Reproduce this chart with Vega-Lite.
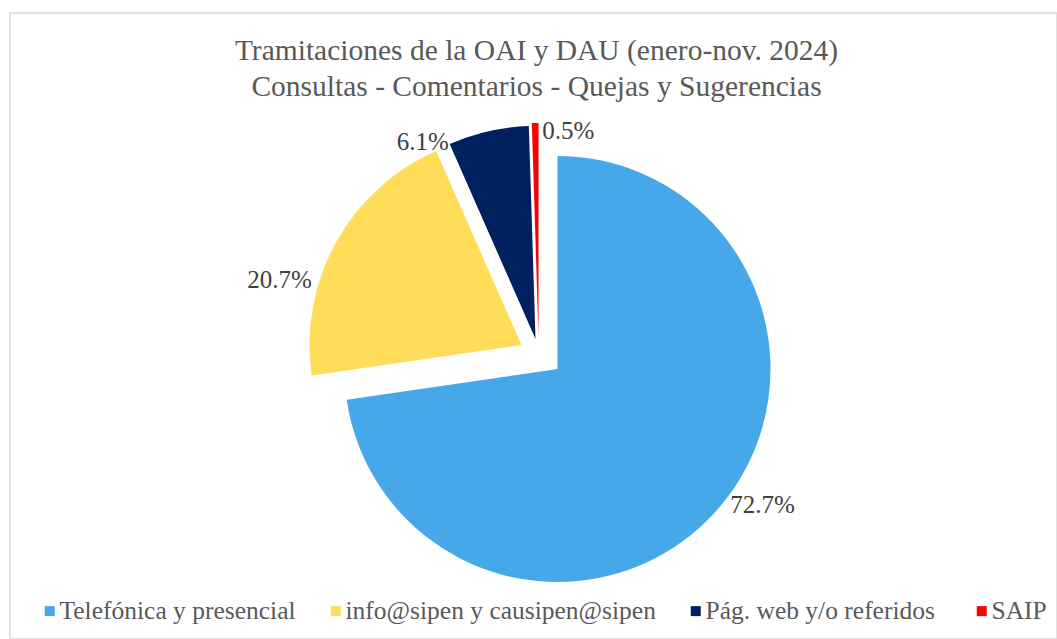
{
  "$schema": "https://vega.github.io/schema/vega-lite/v6.json",
  "autosize": "none",
  "padding": {"left": 10, "top": 13, "right": 0, "bottom": 0},
  "width": 1047,
  "height": 626,
  "background": "white",
  "view": {"stroke": "#d9d9d9", "strokeWidth": 1.5, "fill": "white"},
  "config": {
    "view": {"stroke": "#d9d9d9", "strokeWidth": 1.5},
    "font": "'Liberation Serif', 'Times New Roman', serif"
  },
  "title": {
    "text": ["Tramitaciones de la OAI y DAU  (enero-nov. 2024)", "Consultas - Comentarios - Quejas y Sugerencias"],
    "font": "'Liberation Serif', 'Times New Roman', serif",
    "fontSize": 29.5,
    "fontWeight": "normal",
    "color": "#595959",
    "lineHeight": 36,
    "anchor": "middle",
    "dx": 3,
    "dy": 93
  },
  "data": {
    "values": [
      {"cat": "Telefónica y presencial", "value": 0.727},
      {"cat": "info@sipen y causipen@sipen", "value": 0.207},
      {"cat": "Pág. web  y/o referidos", "value": 0.061},
      {"cat": "SAIP", "value": 0.005}
    ]
  },
  "encoding": {
    "theta": {"field": "value", "type": "quantitative", "stack": true},
    "order": {"field": "value", "type": "quantitative", "sort": "descending"},
    "color": {
      "field": "cat",
      "type": "nominal",
      "scale": {
        "domain": ["Telefónica y presencial", "info@sipen y causipen@sipen", "Pág. web  y/o referidos", "SAIP"],
        "range": ["#47A8E9", "#FFDD59", "#002060", "#FF0000"]
      },
      "legend": {
        "title": null,
        "orient": "none",
        "legendX": 27,
        "legendY": 585,
        "direction": "horizontal",
        "symbolType": "square",
        "symbolSize": 100,
        "symbolStrokeWidth": 0,
        "labelFont": "'Liberation Serif', 'Times New Roman', serif",
        "labelFontSize": 25.5,
        "labelColor": "#595959",
        "labelOffset": -3,
        "columnPadding": 27,
        "labelLimit": 0
      }
    }
  },
  "layer": [
    {
      "mark": {"type": "arc", "outerRadius": 213, "xOffset": 24, "yOffset": 43},
      "encoding": {"opacity": {"condition": {"test": "datum.cat === 'Telefónica y presencial'", "value": 1}, "value": 0}}
    },
    {
      "mark": {"type": "arc", "outerRadius": 212, "xOffset": -12, "yOffset": 19},
      "encoding": {"opacity": {"condition": {"test": "datum.cat === 'info@sipen y causipen@sipen'", "value": 1}, "value": 0}}
    },
    {
      "mark": {"type": "arc", "outerRadius": 213, "xOffset": 2, "yOffset": 13},
      "encoding": {"opacity": {"condition": {"test": "datum.cat === 'Pág. web  y/o referidos'", "value": 1}, "value": 0}}
    },
    {
      "mark": {"type": "arc", "outerRadius": 213, "xOffset": 5, "yOffset": 10},
      "encoding": {"opacity": {"condition": {"test": "datum.cat === 'SAIP'", "value": 1}, "value": 0}}
    },
    {
      "mark": {"type": "text", "radius": 246, "xOffset": 24, "yOffset": 43, "dx": 19, "dy": -25, "fontSize": 25, "font": "'Liberation Serif', 'Times New Roman', serif", "align": "center", "baseline": "middle"},
      "encoding": {
        "text": {"field": "value", "type": "quantitative", "format": ".1%"},
        "color": {"value": "#404040"},
        "opacity": {"condition": {"test": "datum.cat === 'Telefónica y presencial'", "value": 1}, "value": 0}
      }
    },
    {
      "mark": {"type": "text", "radius": 240, "xOffset": -13, "yOffset": 19, "dx": -31, "dy": 51, "fontSize": 25, "font": "'Liberation Serif', 'Times New Roman', serif", "align": "center", "baseline": "middle"},
      "encoding": {
        "text": {"field": "value", "type": "quantitative", "format": ".1%"},
        "color": {"value": "#404040"},
        "opacity": {"condition": {"test": "datum.cat === 'info@sipen y causipen@sipen'", "value": 1}, "value": 0}
      }
    },
    {
      "mark": {"type": "text", "radius": 225, "xOffset": 2, "yOffset": 13, "dx": -63, "dy": 22, "fontSize": 25, "font": "'Liberation Serif', 'Times New Roman', serif", "align": "center", "baseline": "middle"},
      "encoding": {
        "text": {"field": "value", "type": "quantitative", "format": ".1%"},
        "color": {"value": "#404040"},
        "opacity": {"condition": {"test": "datum.cat === 'Pág. web  y/o referidos'", "value": 1}, "value": 0}
      }
    },
    {
      "mark": {"type": "text", "radius": 205, "xOffset": 5, "yOffset": 10, "dx": 33, "dy": 0, "fontSize": 25, "font": "'Liberation Serif', 'Times New Roman', serif", "align": "center", "baseline": "middle"},
      "encoding": {
        "text": {"field": "value", "type": "quantitative", "format": ".1%"},
        "color": {"value": "#404040"},
        "opacity": {"condition": {"test": "datum.cat === 'SAIP'", "value": 1}, "value": 0}
      }
    }
  ]
}
